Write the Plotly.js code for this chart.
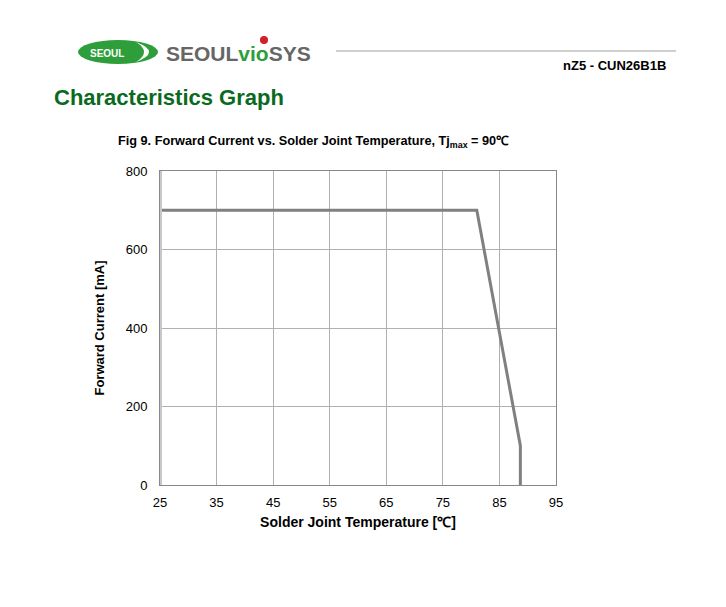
<!DOCTYPE html>
<html>
<head>
<meta charset="utf-8">
<script src="https://cdn.plot.ly/plotly-3.0.1.min.js"></script>
<style>
html,body{margin:0;padding:0;background:#fff;}
#chart{width:726px;height:607px;}
</style>
</head>
<body>
<div id="chart"></div>
<script>
// Data
const temperature = [25, 81, 88.7, 88.7];
const forwardCurrent = [700, 700, 100, 0];
const xTicks = [25, 35, 45, 55, 65, 75, 85, 95];
const yTicks = [0, 200, 400, 600, 800];

// pixel -> paper helpers for decoration
const L = 160, R = 556, T = 171, B = 485;
const px = x => (x - L) / (R - L);
const py = y => (B - y) / (B - T);

const FONT = 'Liberation Sans, Arial, sans-serif';

const trace = {
  x: temperature, y: forwardCurrent,
  type: 'scatter', mode: 'lines',
  line: {color: '#808080', width: 3},
  hoverinfo: 'skip'
};

const layout = {
  width: 726, height: 607,
  margin: {l: L, r: 726 - R, t: T, b: 607 - B, pad: 0},
  paper_bgcolor: '#fff', plot_bgcolor: '#fff',
  showlegend: false,
  font: {family: FONT, size: 13, color: '#000'},
  xaxis: {
    range: [25, 95], tickvals: xTicks, ticktext: xTicks.map(String),
    showgrid: true, gridcolor: '#b0b0b0', gridwidth: 1,
    zeroline: false, showline: true, linecolor: '#888', linewidth: 1, mirror: true,
    ticks: '', ticklabelstandoff: 5,
    tickfont: {family: FONT, size: 13, color: '#000'},
    title: {text: '<b>Solder Joint Temperature [℃]</b>', font: {family: FONT, size: 14, color: '#000'}, standoff: 8}
  },
  yaxis: {
    range: [0, 800], tickvals: yTicks, ticktext: yTicks.map(String),
    showgrid: true, gridcolor: '#b0b0b0', gridwidth: 1,
    zeroline: false, showline: true, linecolor: '#888', linewidth: 1, mirror: true,
    ticks: '', ticklabelstandoff: 9,
    tickfont: {family: FONT, size: 13, color: '#000'},
    title: {text: '<b>Forward Current [mA]</b>', font: {family: FONT, size: 13, color: '#000'}, standoff: 18}
  },
  shapes: [
    // left axis light thick line
    {type: 'line', xref: 'paper', yref: 'paper', x0: px(161), x1: px(161), y0: 0, y1: 1,
     line: {color: '#c8c8c8', width: 2}},
    // header rule
    {type: 'line', xref: 'paper', yref: 'paper', x0: px(336), x1: px(676), y0: py(51), y1: py(51),
     line: {color: '#a0a0a0', width: 1}},
    // logo ellipse
    {type: 'circle', xref: 'paper', yref: 'paper', x0: px(78), x1: px(158), y0: py(40), y1: py(64),
     fillcolor: '#2e9e3a', line: {color: '#2e9e3a', width: 0}},
    // swoosh (white crescent)
    {type: 'path', xref: 'paper', yref: 'paper',
     path: 'M ' + px(136) + ' ' + py(42) + ' Q ' + px(162) + ' ' + py(52) + ' ' + px(136) + ' ' + py(62) +
           ' Q ' + px(152) + ' ' + py(52) + ' ' + px(136) + ' ' + py(42) + ' Z',
     fillcolor: '#ffffff', line: {color: '#ffffff', width: 0}},
    // red dot above i
    {type: 'circle', xref: 'paper', yref: 'paper', x0: px(260), x1: px(268), y0: py(36), y1: py(44),
     fillcolor: '#d32027', line: {color: '#d32027', width: 0}}
  ],
  annotations: [
    {xref: 'paper', yref: 'paper', x: px(107), y: py(53), xanchor: 'center', yanchor: 'middle',
     text: '<b>SEOUL</b>', showarrow: false, font: {family: FONT, size: 10, color: '#fff'}},
    {xref: 'paper', yref: 'paper', x: px(164), y: py(53), xanchor: 'left', yanchor: 'middle',
     text: '<b>SEOUL<span style="color:#2e9e3a">vio</span>SYS</b>', showarrow: false,
     font: {family: FONT, size: 21, color: '#666666'}},
    {xref: 'paper', yref: 'paper', x: px(668), y: py(66), xanchor: 'right', yanchor: 'middle',
     text: '<b>nZ5 - CUN26B1B</b>', showarrow: false, font: {family: FONT, size: 13, color: '#000'}},
    {xref: 'paper', yref: 'paper', x: px(52), y: py(97), xanchor: 'left', yanchor: 'middle',
     text: '<b>Characteristics Graph</b>', showarrow: false, font: {family: FONT, size: 22, color: '#0a6a1e'}},
    {xref: 'paper', yref: 'paper', x: px(116), y: py(142), xanchor: 'left', yanchor: 'middle',
     text: '<b>Fig 9. Forward Current vs. Solder Joint Temperature, Tj<sub>max</sub> = 90℃</b>', showarrow: false,
     font: {family: FONT, size: 12.7, color: '#000'}}
  ]
};

Plotly.newPlot('chart', [trace], layout, {displayModeBar: false, staticPlot: true});
</script>
</body>
</html>
